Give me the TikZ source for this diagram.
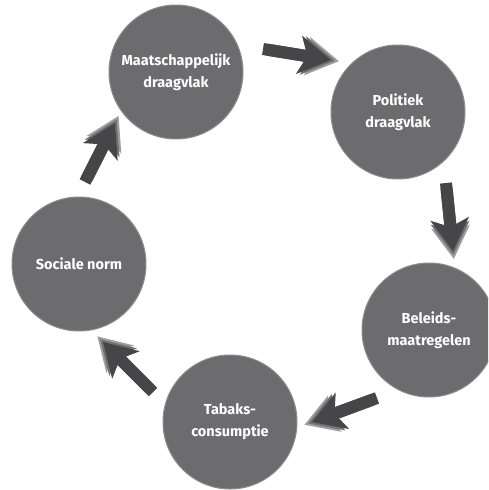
\documentclass[tikz,border=0pt]{standalone}
\usepackage{fontspec}
\setsansfont{Fira Sans}
\usepackage{tikz}
\usetikzlibrary{arrows.meta,calc}

\definecolor{discgray}{RGB}{108,108,110}
\definecolor{discrim}{RGB}{140,140,142}
\definecolor{arrowdark}{RGB}{70,70,72}
\definecolor{arrowmid}{RGB}{112,112,114}
\definecolor{arrowlight}{RGB}{158,158,160}

\begin{document}
\begin{tikzpicture}[x=1pt,y=-1pt,
    disc/.style={circle, minimum size=134pt, inner sep=0pt, fill=discgray,
        draw=discrim, line width=1pt, text=white, align=center,
        font=\sffamily\bfseries\fontsize{14.5}{22}\selectfont},
    blk/.style={line width=12pt, -{Stealth[length=32pt,width=38pt,inset=8pt]}}]
    \clip (0,0) rectangle (488,490);
    \fill[white] (0,0) rectangle (488,490);

    % the five stages
    \node[disc] (maat) at (176,72)  {Maatschappelijk\\draagvlak};
    \node[disc] (poli) at (398,112) {Politiek\\draagvlak};
    \node[disc] (bel)  at (429,330) {Beleids-\\maatregelen};
    \node[disc] (tab)  at (230,422) {Tabaks-\\consumptie};
    \node[disc] (soc)  at (79,264)  {Sociale norm};

    % arrow ends between the stages
    \coordinate (arr1a) at (263,49);  \coordinate (arr1b) at (331,60);
    \coordinate (arr2a) at (446,183); \coordinate (arr2b) at (453,251);
    \coordinate (arr3a) at (377,398); \coordinate (arr3b) at (312,422);
    \coordinate (arr4a) at (153,392); \coordinate (arr4b) at (103,342);
    \coordinate (arr5a) at (85,182);  \coordinate (arr5b) at (115,123);

    \foreach \i in {1,...,5} {
        \draw[blk, arrowlight] ($(arr\i a)!8pt!(arr\i b)$) -- ($(arr\i b)!-8pt!(arr\i a)$);
        \draw[blk, arrowmid] ($(arr\i a)!4pt!(arr\i b)$) -- ($(arr\i b)!-4pt!(arr\i a)$);
        \draw[blk, arrowdark] (arr\i a) -- (arr\i b);
    }
\end{tikzpicture}
\end{document}
